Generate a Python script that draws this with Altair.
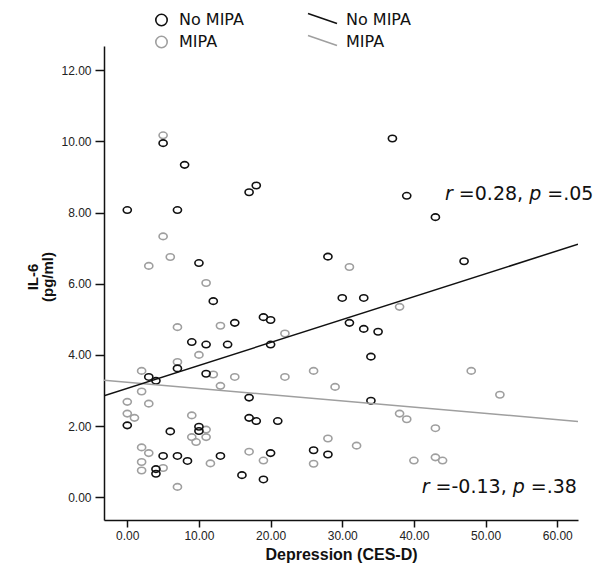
import altair as alt
import pandas as pd

# ---------------- data ----------------
groups = ["No MIPA", "MIPA"]

nomipa_x = [5, 8, 17, 18, 0, 7, 10, 28, 37, 39, 43, 47, 30, 33, 12,
            15, 19, 20, 31, 33, 35, 9, 11, 14, 20, 34, 7, 3, 4, 11,
            17, 34, 0, 17, 18, 21, 10, 10, 6, 5, 7, 13, 20, 26, 28,
            8.4, 4, 4, 16, 19]
nomipa_y = [9.95, 9.34, 8.57, 8.76, 8.07, 8.07, 6.58, 6.76, 10.08, 8.47,
            7.87, 6.63, 5.60, 5.60, 5.51, 4.90, 5.06, 4.98, 4.90, 4.73,
            4.65, 4.36, 4.29, 4.29, 4.29, 3.95, 3.62, 3.38, 3.27, 3.47,
            2.80, 2.71, 2.02, 2.23, 2.14, 2.14, 1.98, 1.86, 1.85, 1.16,
            1.16, 1.16, 1.24, 1.32, 1.20, 1.02, 0.79, 0.66, 0.62, 0.50]

mipa_x = [5, 5, 6, 3, 31, 11, 7, 13, 22, 10, 7, 2, 26, 12, 15, 22, 13,
          29, 2, 3, 0, 0, 1, 9, 11, 9, 11, 9.6, 2, 3, 17, 28, 2, 11.6,
          19, 26, 2, 5, 7, 38, 48, 52, 38, 39, 43, 32, 40, 43, 44]
mipa_y = [10.17, 7.33, 6.75, 6.50, 6.47, 6.02, 4.78, 4.82, 4.60, 4.00,
          3.80, 3.55, 3.55, 3.45, 3.38, 3.38, 3.13, 3.10, 2.97, 2.63,
          2.68, 2.35, 2.23, 2.30, 1.90, 1.69, 1.69, 1.55, 1.40, 1.24,
          1.28, 1.65, 0.99, 0.95, 1.03, 0.94, 0.75, 0.82, 0.29, 5.35,
          3.55, 2.88, 2.35, 2.19, 1.94, 1.45, 1.03, 1.12, 1.03]

fit_x = [-3.25, 62.9]
fit_nomipa_y = [2.85, 7.11]
fit_mipa_y = [3.29, 2.13]

x_domain = [-3.25, 62.9]
y_domain = [-0.64, 12.68]
x_ticks = [0, 10, 20, 30, 40, 50, 60]
y_ticks = [0, 2, 4, 6, 8, 10, 12]

annot_nomipa = ["r", "=0.28,", "p", "=.05"]
annot_mipa = ["r", "=-0.13,", "p", "=.38"]

x_title = "Depression (CES-D)"
y_title = ["IL-6", "(pg/ml)"]

# ---------------- styling ----------------
BLACK = "#111111"
GRAY = "#9f9f9f"
W, H = 474, 474
ELLIPSE = "M-1,0A1,0.8,0,1,1,1,0A1,0.8,0,1,1,-1,0Z"

pts = pd.concat([
    pd.DataFrame({"x": mipa_x, "y": mipa_y, "g": groups[1]}),
    pd.DataFrame({"x": nomipa_x, "y": nomipa_y, "g": groups[0]}),
], ignore_index=True)

fits = pd.concat([
    pd.DataFrame({"x": fit_x, "y": fit_mipa_y, "g": groups[1]}),
    pd.DataFrame({"x": fit_x, "y": fit_nomipa_y, "g": groups[0]}),
], ignore_index=True)

color = alt.Color("g:N", scale=alt.Scale(domain=groups, range=[BLACK, GRAY]), legend=None)

xenc = alt.X("x:Q", scale=alt.Scale(domain=x_domain, nice=False, zero=False),
             axis=alt.Axis(values=x_ticks, format=".2f", title=x_title, grid=False))
yenc = alt.Y("y:Q", scale=alt.Scale(domain=y_domain, nice=False, zero=False),
             axis=alt.Axis(values=y_ticks, format=".2f", title=None, grid=False))

points = alt.Chart(pts).mark_point(
    shape=ELLIPSE, filled=False, size=66, strokeWidth=1.6, opacity=1
).encode(x=xenc, y=yenc, color=color, order=alt.Order("g:N", sort="ascending"))

lines = alt.Chart(fits).mark_line(strokeWidth=1.5, clip=True).encode(
    x="x:Q", y="y:Q", color=color, detail="g:N")

one = pd.DataFrame({"k": [0]})

# ---- annotations (italic r and p) ----
CW = {"r": 0.411, " ": 0.318, "=": 0.838, "-": 0.361, ".": 0.318, ",": 0.318, "p": 0.635}
def tw(s, fs):
    return sum(CW.get(c, 0.636) for c in s) * fs

def annotation(parts, x0, y0, fs=19):
    layers = []
    x = x0
    for i, seg in enumerate(parts):
        layers.append(alt.Chart(one).mark_text(
            text=seg, align="left", baseline="alphabetic", font="DejaVu Sans",
            fontSize=fs, fontStyle="italic" if i % 2 == 0 else "normal", color="#111111"
        ).encode(x=alt.value(x), y=alt.value(y0)))
        x += tw(seg, fs) + tw(" ", fs)
    return layers

ann = annotation(annot_nomipa, 341, 154) + annotation(annot_mipa, 317.7, 447)

# ---- custom legend ----
leg = []
for i, (g, c) in enumerate(zip(groups, [BLACK, GRAY])):
    ly = -26 + 22 * i
    leg.append(alt.Chart(one).mark_point(
        shape="circle", filled=False, size=130, strokeWidth=1.6, color=c, opacity=1
    ).encode(x=alt.value(57.5), y=alt.value(ly)))
    leg.append(alt.Chart(one).mark_text(
        text=g, align="left", baseline="middle", font="DejaVu Sans", fontSize=16, color="#111111"
    ).encode(x=alt.value(75), y=alt.value(ly)))
    leg.append(alt.Chart(one).mark_rule(strokeWidth=1.5, color=c).encode(
        x=alt.value(204), x2=alt.value(233), y=alt.value(ly - 6.5), y2=alt.value(ly + 3.5)))
    leg.append(alt.Chart(one).mark_text(
        text=g, align="left", baseline="middle", font="DejaVu Sans", fontSize=16, color="#111111"
    ).encode(x=alt.value(242), y=alt.value(ly)))

# ---- y axis title (two lines, rotated) ----
ytitle = []
for i, t in enumerate(y_title):
    ytitle.append(alt.Chart(one).mark_text(
        text=t, angle=270, align="center", baseline="middle", font="Liberation Sans",
        fontWeight="bold", fontSize=15, color="#111111"
    ).encode(x=alt.value(-71 + 15 * i), y=alt.value(231)))

chart = alt.layer(points, lines, *ann, *leg, *ytitle).properties(
    width=W, height=H,
    background="white",
    autosize=alt.AutoSizeParams(type="none"),
    padding={"left": 96, "top": 38, "right": 15, "bottom": 48},
).configure_view(stroke=None).configure_axis(
    domainColor="#111111", domainWidth=1.5, tickColor="#111111", tickWidth=1.5,
    labelFont="Liberation Sans", labelFontSize=12, labelColor="#222222",
    titleFont="Liberation Sans", titleFontSize=16, titleFontWeight="bold", titleColor="#111111",
).configure_axisX(tickSize=7, labelPadding=3, titlePadding=5
).configure_axisY(tickSize=9, labelPadding=4)

chart.save("out.html", embed_options={"renderer": "svg", "actions": False})
